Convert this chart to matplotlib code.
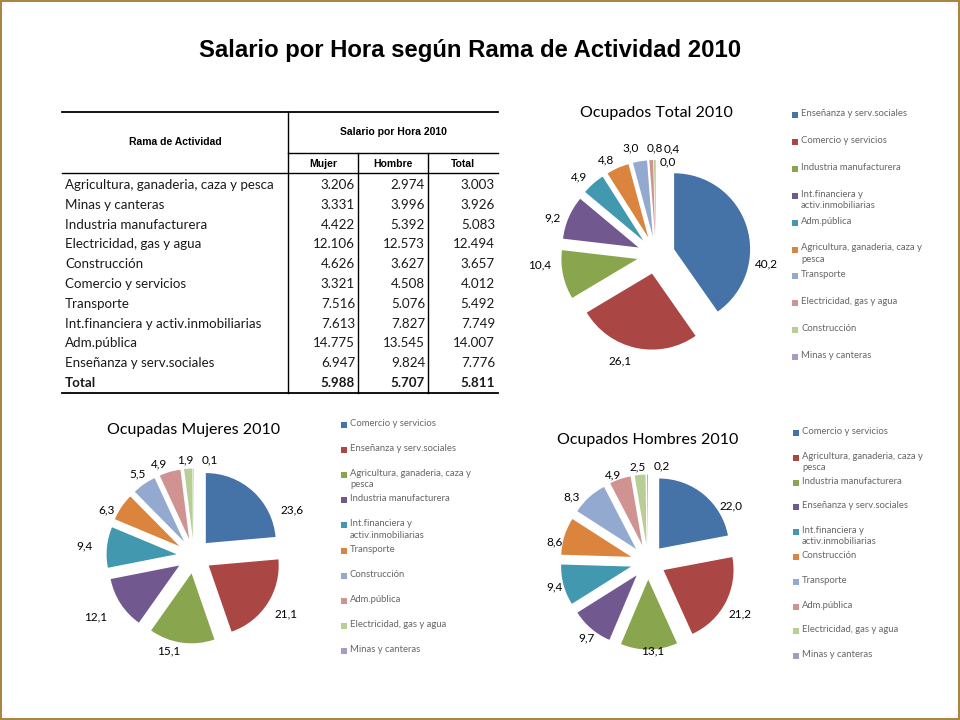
import textwrap
import matplotlib
matplotlib.use('Agg')
import matplotlib.pyplot as plt
from matplotlib.patches import Rectangle

# table data
ramas = ['Agricultura, ganaderia, caza y pesca', 'Minas y canteras', 'Industria manufacturera',
         'Electricidad, gas y agua', 'Construcción', 'Comercio y servicios', 'Transporte',
         'Int.financiera y activ.inmobiliarias', 'Adm.pública', 'Enseñanza y serv.sociales']
sal_mujer = [3.206, 3.331, 4.422, 12.106, 4.626, 3.321, 7.516, 7.613, 14.775, 6.947]
sal_hombre = [2.974, 3.996, 5.392, 12.573, 3.627, 4.508, 5.076, 7.827, 13.545, 9.824]
sal_total = [3.003, 3.926, 5.083, 12.494, 3.657, 4.012, 5.492, 7.749, 14.007, 7.776]
fila_total = [5.988, 5.707, 5.811]

# pie data
total_cats = ['Enseñanza y serv.sociales', 'Comercio y servicios', 'Industria manufacturera',
              'Int.financiera y activ.inmobiliarias', 'Adm.pública',
              'Agricultura, ganaderia, caza y pesca', 'Transporte', 'Electricidad, gas y agua',
              'Construcción', 'Minas y canteras']
total_vals = [40.2, 26.1, 10.4, 9.2, 4.9, 4.8, 3.0, 0.8, 0.4, 0.0]

muj_cats = ['Comercio y servicios', 'Enseñanza y serv.sociales',
            'Agricultura, ganaderia, caza y pesca', 'Industria manufacturera',
            'Int.financiera y activ.inmobiliarias', 'Transporte', 'Construcción', 'Adm.pública',
            'Electricidad, gas y agua', 'Minas y canteras']
muj_vals = [23.6, 21.1, 15.1, 12.1, 9.4, 6.3, 5.5, 4.9, 1.9, 0.1]

hom_cats = ['Comercio y servicios', 'Agricultura, ganaderia, caza y pesca',
            'Industria manufacturera', 'Enseñanza y serv.sociales',
            'Int.financiera y activ.inmobiliarias', 'Construcción', 'Transporte', 'Adm.pública',
            'Electricidad, gas y agua', 'Minas y canteras']
hom_vals = [22.0, 21.2, 13.1, 9.7, 9.4, 8.6, 8.3, 4.9, 2.5, 0.2]

colors = ['#4572A7', '#AA4643', '#89A54E', '#71588F', '#4198AF',
          '#DB843D', '#93A9CF', '#D19392', '#B9CD96', '#A99BBD']

W, H = 960, 720
fig = plt.figure(figsize=(9.6, 7.2), dpi=100)
ax0 = fig.add_axes([0, 0, 1, 1])
ax0.set_xlim(0, W)
ax0.set_ylim(H, 0)
ax0.axis('off')

# frame
fig.patches.append(Rectangle((0.001, 0.001), 0.998, 0.997, transform=fig.transFigure,
                             fill=False, edgecolor='#A8823F', lw=1.4))

ax0.text(470, 50, 'Salario por Hora según Rama de Actividad 2010', ha='center', va='center',
         fontsize=17.2, fontweight='bold', family='Liberation Sans')

# table
lw = 1.0
ax0.plot([62, 498], [112, 112], color='black', lw=1.3)
ax0.plot([288, 288], [112, 393], color='black', lw=lw)
ax0.plot([288, 498], [153, 153], color='black', lw=lw)
ax0.plot([358, 358], [153, 393], color='black', lw=lw)
ax0.plot([428, 428], [153, 393], color='black', lw=lw)
ax0.plot([62, 498], [173, 173], color='black', lw=lw)
ax0.plot([62, 498], [393, 393], color='black', lw=1.3)

hdr = dict(ha='center', va='center', fontsize=7.5, fontweight='bold', family='Liberation Sans')
ax0.text(175, 142, 'Rama de Actividad', **hdr)
ax0.text(393, 132, 'Salario por Hora 2010', **hdr)
ax0.text(323, 164, 'Mujer', **hdr)
ax0.text(393, 164, 'Hombre', **hdr)
ax0.text(463, 164, 'Total', **hdr)

body = dict(va='center', fontsize=9.6, family='Lato', color='#1a1a1a')
y0, dy = 185, 19.8
for i, r in enumerate(ramas):
    y = y0 + i * dy
    ax0.text(65, y, r, ha='left', **body)
    ax0.text(355, y, f'{sal_mujer[i]:.3f}', ha='right', **body)
    ax0.text(425, y, f'{sal_hombre[i]:.3f}', ha='right', **body)
    ax0.text(495, y, f'{sal_total[i]:.3f}', ha='right', **body)
y = y0 + len(ramas) * dy
ax0.text(65, y, 'Total', ha='left', fontweight='bold', **body)
for xr, v in zip([355, 425, 495], fila_total):
    ax0.text(xr, y, f'{v:.3f}', ha='right', fontweight='bold', **body)


def draw_pie(cx, cy, r, vals, title, title_y, nudge):
    S = 140
    ax = fig.add_axes([(cx - S) / W, 1 - (cy + S) / H, 2 * S / W, 2 * S / H])
    labels = [f'{v:.1f}'.replace('.', ',') for v in vals]
    wedges, texts = ax.pie(vals, labels=labels, colors=colors, startangle=90,
                           counterclock=False, explode=[0.25] * len(vals),
                           labeldistance=1.12, wedgeprops=dict(linewidth=0),
                           textprops=dict(fontsize=8.5, family='Lato', color='black'))
    ax.set_xlim(-S / r, S / r)
    ax.set_ylim(-S / r, S / r)
    # move labels (pixels, right / down) to where excel put them
    for i, (ddx, ddy) in nudge.items():
        x, y = texts[i].get_position()
        texts[i].set_position((x + ddx / r, y - ddy / r))
    ax0.text(cx, title_y, title, ha='center', va='center', fontsize=11.5, family='Lato')


def draw_legend(x, ytop, step, cats):
    for i, c in enumerate(cats):
        y = ytop + i * step
        ax0.add_patch(Rectangle((x - 3, y - 3), 6, 6, color=colors[i], lw=0))
        ax0.text(x + 6, y - 6, textwrap.fill(c, 30), ha='left', va='top', fontsize=6.8,
                 family='Lato', color='#666666', linespacing=1.3)


draw_pie(656, 255, 76, total_vals, 'Ocupados Total 2010', 113,
         {0: (0, 40), 1: (-3, 4), 2: (-3, -12), 3: (0, 4), 6: (0, -4),
          7: (12, -3), 8: (25, -2), 9: (20, 11)})
draw_legend(795, 115, 26.9, total_cats)

draw_pie(194, 556, 70, muj_vals, 'Ocupadas Mujeres 2010', 430,
         {0: (22, 25), 1: (0, 6), 3: (-6, 9), 4: (-6, 0), 5: (0, 8), 6: (6, -3),
          8: (6, 0), 9: (24, 0)})
draw_legend(344, 425, 25.1, muj_cats)

draw_pie(648, 562, 70, hom_vals, 'Ocupados Hombres 2010', 440,
         {0: (10, 18), 1: (-5, 8), 2: (-8, -7), 3: (9, 3), 4: (7, 0), 5: (6, 8),
          6: (-4, 6), 7: (4, 4), 8: (6, 0), 9: (22, 0)})
draw_legend(796, 433, 24.8, hom_cats)

plt.savefig('out.png', dpi=100)
